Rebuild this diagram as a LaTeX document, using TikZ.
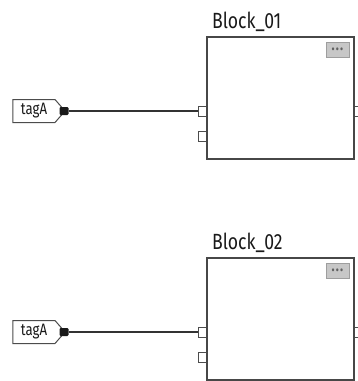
\documentclass[tikz,border=0pt]{standalone}
\usepackage{fontspec}
\setmainfont{Fira Sans}[FakeStretch=0.8]
\usetikzlibrary{positioning,shapes.symbols}
\tikzset{
  block/.style={draw=black!72, line width=1.4pt, fill=white,
    minimum width=147pt, minimum height=122pt, inner sep=0pt},
  blocktitle/.style={font=\fontsize{22}{24}\selectfont, text=black!90,
    inner sep=0pt, anchor=base west},
  dotsbtn/.style={draw=black!38, line width=1pt, fill=black!22,
    minimum width=23pt, minimum height=15pt, inner sep=0pt,
    font=\fontsize{16}{16}\selectfont\bfseries, text=black!62},
  port/.style={draw=black!70, line width=1pt, fill=white,
    minimum width=9pt, minimum height=10pt, inner sep=0pt},
  tagin/.style={shape=signal, signal to=east, signal pointer angle=98,
    draw=black!70, line width=1pt, fill=white,
    minimum width=52pt, minimum height=23pt, inner xsep=3pt, inner ysep=0pt,
    font=\fontsize{16.5}{16}\selectfont, text=black!90},
  tagdot/.style={fill=black!90, rounded corners=1.2pt,
    minimum width=9pt, minimum height=8pt, inner sep=0pt},
  wire/.style={draw=black!80, line width=1.2pt}
}
\begin{document}
\begin{tikzpicture}[x=1pt,y=-1pt]
    \useasboundingbox (0,0) rectangle (357,381);
    \foreach \i/\dy in {1/0,2/221} {
        % function block with its two inputs and the clipped output
        \node[port] (in\i a) at (202.5,111+\dy) {};
        \node[port] (in\i b) at (202.5,136+\dy) {};
        \node[port] (out\i) at (358,111+\dy) {};
        \node[block] (b\i) at (280.5,98+\dy) {};
        \node[blocktitle] (title\i) at (212,28+\dy) {Block\_0\i};
        \node[dotsbtn] (btn\i) at (337.5,49.5+\dy) {\raisebox{-3pt}{.\kern1.2pt.\kern1.2pt.}};
        % input tag
        \node[tagin] (tag\i) at (34,111+\dy) {tagA};
        \node[tagdot] (pin\i) at (64,111+\dy) {};
        \draw[wire] (pin\i) -- (in\i a);
    }
\end{tikzpicture}
\end{document}
